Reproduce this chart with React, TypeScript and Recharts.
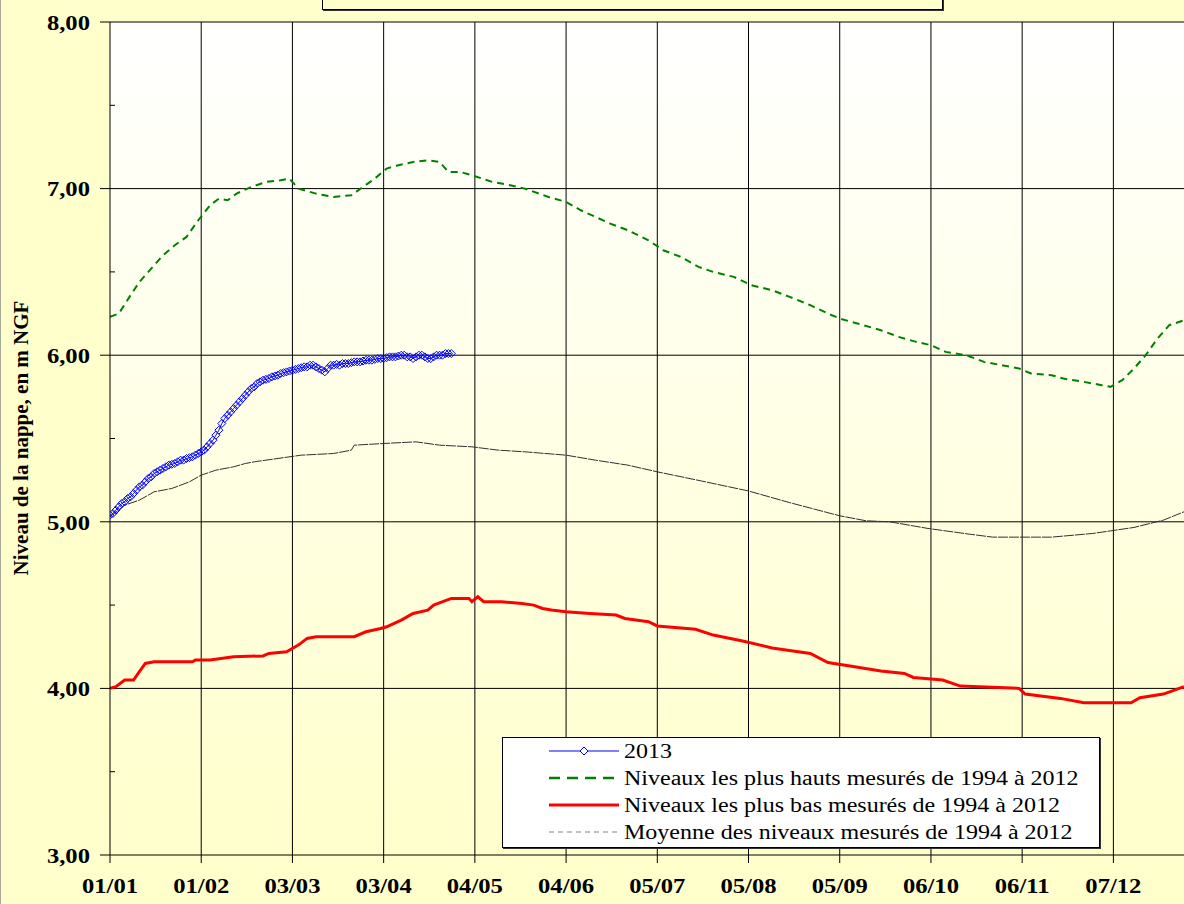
import { LineChart, Line, XAxis, YAxis, CartesianGrid } from 'recharts';

// day of year (0 = 01/01), one tick every 31 days
const monthTicks = [0, 31, 62, 93, 124, 155, 186, 217, 248, 279, 310, 341];
const monthLabels = ['01/01', '01/02', '03/03', '03/04', '04/05', '04/06', '05/07', '05/08', '05/09', '06/10', '06/11', '07/12'];
const yTicks = [3, 3.5, 4, 4.5, 5, 5.5, 6, 6.5, 7, 7.5, 8];

// 2013: one reading per day from 01/01
const niveaux2013 = [
  5.04, 5.05, 5.07, 5.09, 5.11, 5.12, 5.14, 5.15, 5.17, 5.19,
  5.21, 5.22, 5.24, 5.26, 5.27, 5.29, 5.3, 5.31, 5.32, 5.33,
  5.34, 5.345, 5.35, 5.36, 5.37, 5.37, 5.38, 5.385, 5.39, 5.4,
  5.41, 5.42, 5.43, 5.45, 5.47, 5.49, 5.52, 5.55, 5.59, 5.62,
  5.64, 5.66, 5.68, 5.7, 5.72, 5.74, 5.76, 5.78, 5.8, 5.81,
  5.83, 5.84, 5.85, 5.855, 5.86, 5.87, 5.875, 5.88, 5.89, 5.895,
  5.9, 5.905, 5.91, 5.915, 5.92, 5.925, 5.93, 5.93, 5.94, 5.94,
  5.93, 5.92, 5.91, 5.9, 5.92, 5.94, 5.94, 5.945, 5.94, 5.95,
  5.95, 5.95, 5.955, 5.96, 5.96, 5.96, 5.965, 5.97, 5.97, 5.97,
  5.975, 5.98, 5.98, 5.98, 5.985, 5.99, 5.99, 5.99, 5.995, 6.0,
  6.0, 5.99, 5.99, 5.98, 5.99, 6.0, 6.0, 5.99, 5.98, 5.98,
  5.99, 6.0, 6.0, 6.0, 6.01, 6.01, 6.01,
];

const daysHauts = [0, 3, 7, 10, 14, 18, 22, 26, 30, 34, 37, 40, 43, 48, 53, 58, 61, 64, 70, 76, 82, 86, 90, 94, 98, 103, 108, 112, 115, 119, 123, 130, 136, 141, 149, 155, 160, 170, 176, 183, 188, 194, 200, 205, 212, 218, 225, 231, 238, 244, 248, 254, 262, 268, 274, 279, 284, 291, 297, 303, 309, 313, 320, 324, 331, 337, 340, 344, 348, 352, 356, 360, 365];
const niveauxHauts = [6.23, 6.25, 6.36, 6.44, 6.52, 6.6, 6.66, 6.71, 6.81, 6.9, 6.94, 6.93, 6.97, 7.01, 7.04, 7.05, 7.06, 7.0, 6.97, 6.95, 6.96, 7.01, 7.06, 7.12, 7.14, 7.16, 7.17, 7.16, 7.1, 7.1, 7.08, 7.04, 7.02, 7.0, 6.95, 6.92, 6.87, 6.79, 6.75, 6.69, 6.63, 6.59, 6.53, 6.5, 6.47, 6.42, 6.39, 6.35, 6.3, 6.25, 6.22, 6.19, 6.15, 6.11, 6.08, 6.06, 6.02, 6.0, 5.96, 5.94, 5.92, 5.89, 5.88, 5.86, 5.84, 5.82, 5.81, 5.85, 5.92, 6.0, 6.1, 6.18, 6.21];

const daysBas = [0, 2, 5, 8, 10, 12, 15, 28, 29, 34, 42, 52, 54, 60, 64, 67, 70, 83, 87, 92, 94, 99, 103, 108, 110, 116, 122, 123, 125, 127, 133, 140, 144, 147, 150, 155, 163, 172, 175, 183, 186, 199, 205, 215, 225, 238, 244, 252, 262, 270, 273, 283, 289, 309, 311, 323, 331, 347, 350, 358, 365];
const niveauxBas = [4.0, 4.01, 4.05, 4.05, 4.1, 4.15, 4.16, 4.16, 4.17, 4.17, 4.19, 4.195, 4.21, 4.22, 4.26, 4.3, 4.31, 4.31, 4.34, 4.36, 4.37, 4.41, 4.45, 4.47, 4.5, 4.54, 4.54, 4.52, 4.55, 4.52, 4.52, 4.51, 4.5, 4.48, 4.47, 4.46, 4.45, 4.44, 4.42, 4.4, 4.375, 4.355, 4.32, 4.285, 4.243, 4.21, 4.155, 4.133, 4.105, 4.09, 4.066, 4.05, 4.014, 4.0, 3.966, 3.94, 3.914, 3.914, 3.944, 3.966, 4.01];

const daysMoyenne = [0, 5, 10, 15, 21, 27, 31, 36, 42, 46, 49, 53, 65, 76, 82, 83, 93, 104, 112, 123, 132, 141, 155, 165, 176, 186, 201, 217, 231, 248, 257, 265, 278, 292, 300, 320, 334, 348, 358, 365];
const niveauxMoyenne = [5.03, 5.1, 5.13, 5.18, 5.2, 5.24, 5.28, 5.31, 5.33, 5.35, 5.36, 5.37, 5.4, 5.41, 5.43, 5.46, 5.47, 5.48, 5.46, 5.45, 5.43, 5.42, 5.4, 5.37, 5.34, 5.3, 5.245, 5.185, 5.115, 5.036, 5.006, 5.0, 4.96, 4.926, 4.908, 4.908, 4.93, 4.966, 5.01, 5.06];

const legendLabels = [
  '2013',
  'Niveaux les plus hauts mesurés de 1994 à 2012',
  'Niveaux les plus bas mesurés de 1994 à 2012',
  'Moyenne des niveaux mesurés de 1994 à 2012',
];

const toRows = (days: number[], values: number[]) => days.map((day, i) => ({ day, value: values[i] }));
const rows2013 = niveaux2013.map((value, day) => ({ day, value }));

const PLOT_LEFT = 110;
const PLOT_BOTTOM = 855;
const SERIF = '"Liberation Serif", "Times New Roman", serif';
const STRETCH = 1.12;

const Diamond = (props: any) => {
  const { cx, cy, index } = props;
  if (cx == null || cy == null) return <g key={`d-${index}`} />;
  return (
    <path
      key={`d-${index}`}
      d={`M${cx},${cy - 4}L${cx + 4},${cy}L${cx},${cy + 4}L${cx - 4},${cy}Z`}
      fill="none"
      stroke="#0000FF"
      strokeWidth={1}
    />
  );
};

const YTick = (props: any) => {
  const { y, payload } = props;
  const v = payload.value as number;
  if (!Number.isInteger(v)) {
    return <line x1={PLOT_LEFT} x2={PLOT_LEFT + 5} y1={y} y2={y} stroke="#000" />;
  }
  return (
    <g>
      <line x1={PLOT_LEFT - 10} x2={PLOT_LEFT} y1={y} y2={y} stroke="#000" />
      <g transform={`translate(${PLOT_LEFT - 20},${y}) scale(${STRETCH},1)`}>
        <text x={0} y={0} dy="0.355em" textAnchor="end" fontFamily={SERIF} fontWeight="bold" fontSize={22} fill="#000">
          {v.toFixed(2).replace('.', ',')}
        </text>
      </g>
    </g>
  );
};

const XTick = (props: any) => {
  const { x, payload } = props;
  const i = monthTicks.indexOf(payload.value);
  return (
    <g transform={`translate(${x},${PLOT_BOTTOM + 30}) scale(${STRETCH},1)`}>
      <text x={0} y={0} dy="0.355em" textAnchor="middle" fontFamily={SERIF} fontWeight="bold" fontSize={22} fill="#000">
        {monthLabels[i]}
      </text>
    </g>
  );
};

const legendSample = (i: number) => {
  if (i === 0) {
    return (
      <>
        <line x1={0} x2={70} y1={6} y2={6} stroke="#0000FF" strokeWidth={1} />
        <path d="M35,2L39,6L35,10L31,6Z" fill="#fff" stroke="#0000FF" />
      </>
    );
  }
  if (i === 1) return <line x1={0} x2={70} y1={6} y2={6} stroke="#008000" strokeWidth={2.5} strokeDasharray="11 7" />;
  if (i === 2) return <line x1={0} x2={70} y1={6} y2={6} stroke="#FF0000" strokeWidth={3} />;
  return <line x1={0} x2={70} y1={6} y2={6} stroke="#808080" strokeWidth={1} strokeDasharray="5 4" />;
};

export default function App() {
  return (
    <div
      style={{
        position: 'fixed',
        left: 0,
        top: 0,
        width: 1184,
        height: 904,
        overflow: 'hidden',
        background: '#FFFFCC',
        boxShadow: 'inset 1px 0 0 #a9a99a',
      }}
    >
      <LineChart width={1184} height={904} margin={{ top: 22, right: 0, bottom: 0, left: 0 }}>
        <defs>
          <linearGradient id="plotBg" x1="0" y1="0" x2="0" y2="1">
            <stop offset="0%" stopColor="#FFFFFF" />
            <stop offset="100%" stopColor="#FFFFCC" />
          </linearGradient>
        </defs>
        <CartesianGrid
          fill="url(#plotBg)"
          fillOpacity={1}
          stroke="#000"
          horizontalValues={[4, 5, 6, 7, 8]}
          verticalValues={monthTicks.slice(1)}
        />
        <XAxis
          type="number"
          dataKey="day"
          domain={[0, 365]}
          ticks={monthTicks}
          interval={0}
          height={904 - PLOT_BOTTOM}
          tickSize={8}
          tickLine={{ stroke: '#000' }}
          axisLine={{ stroke: '#000' }}
          tick={<XTick />}
          allowDataOverflow
        />
        <YAxis
          type="number"
          domain={[3, 8]}
          ticks={yTicks}
          interval={0}
          width={PLOT_LEFT}
          tickLine={false}
          axisLine={{ stroke: '#000' }}
          tick={<YTick />}
          allowDataOverflow
        />
        <Line
          data={toRows(daysMoyenne, niveauxMoyenne)}
          dataKey="value"
          name="moyenne"
          type="linear"
          stroke="#303030"
          strokeWidth={1}
          strokeDasharray="10 1"
          dot={false}
          isAnimationActive={false}
        />
        <Line
          data={toRows(daysBas, niveauxBas)}
          dataKey="value"
          name="bas"
          type="linear"
          stroke="#FF0000"
          strokeWidth={3}
          dot={false}
          isAnimationActive={false}
        />
        <Line
          data={toRows(daysHauts, niveauxHauts)}
          dataKey="value"
          name="hauts"
          type="linear"
          stroke="#008000"
          strokeWidth={2}
          strokeDasharray="7 5"
          dot={false}
          isAnimationActive={false}
        />
        <Line
          data={rows2013}
          dataKey="value"
          name="2013"
          type="linear"
          stroke="#0000FF"
          strokeWidth={1}
          dot={Diamond}
          isAnimationActive={false}
        />
      </LineChart>

      <div
        style={{
          position: 'absolute',
          left: 21,
          top: 438,
          transform: 'translate(-50%, -50%) rotate(-90deg)',
          whiteSpace: 'nowrap',
          fontFamily: SERIF,
          fontWeight: 'bold',
          fontSize: 21,
          color: '#000',
        }}
      >
        Niveau de la nappe, en m NGF
      </div>

      <div
        style={{
          position: 'absolute',
          left: 322,
          top: -4,
          width: 619,
          height: 12,
          border: '1px solid #000',
          boxShadow: '1px 1px 0 #333',
          background: '#FFFFCC',
        }}
      />

      <div
        style={{
          position: 'absolute',
          left: 502,
          top: 737,
          width: 596,
          height: 109,
          border: '1px solid #000',
          boxShadow: '1px 1px 0 #333',
          background: '#FFFFFF',
        }}
      >
        {legendLabels.map((label, i) => (
          <div key={label} style={{ position: 'absolute', left: 46, top: 7 + i * 27, height: 13, display: 'flex', alignItems: 'center' }}>
            <svg width={70} height={13} style={{ display: 'block' }}>
              {legendSample(i)}
            </svg>
            <span
              style={{
                marginLeft: 5,
                fontFamily: SERIF,
                fontSize: 20,
                color: '#000',
                whiteSpace: 'nowrap',
                display: 'inline-block',
                transform: 'scaleX(1.2)',
                transformOrigin: 'left center',
                lineHeight: '13px',
              }}
            >
              {label}
            </span>
          </div>
        ))}
      </div>
    </div>
  );
}
